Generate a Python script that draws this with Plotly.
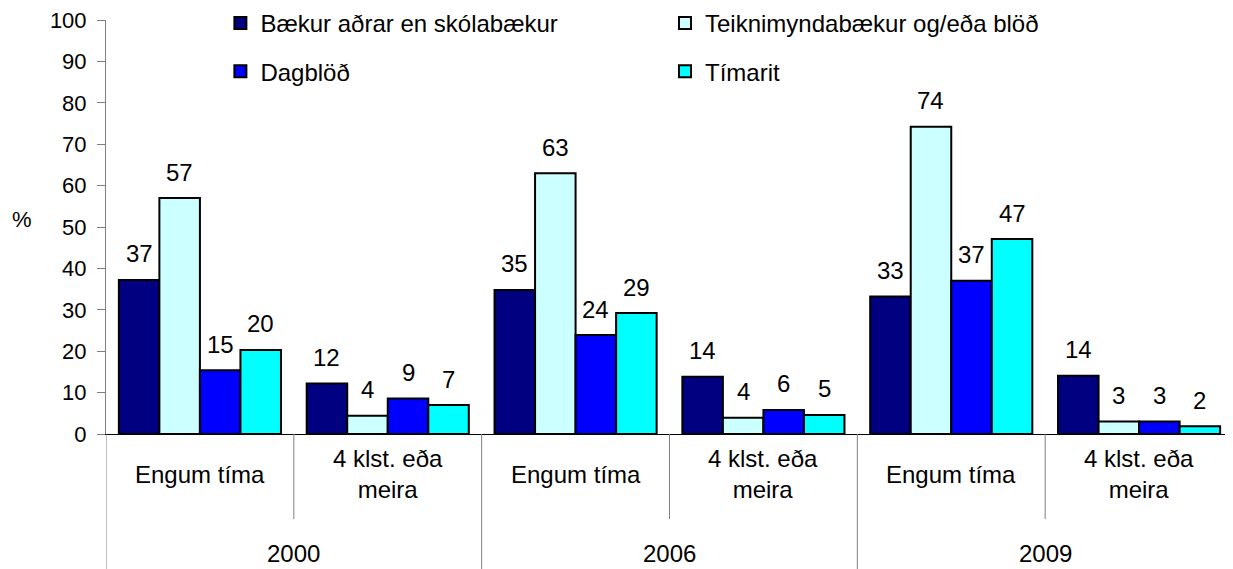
import plotly.graph_objects as go

# ---- data ----
years = ["2000", "2006", "2009"]
periods = ["Engum tíma", "4 klst. eða<br>meira"]
series_names = ["Bækur aðrar en skólabækur", "Teiknimyndabækur og/eða blöð",
                "Dagblöð", "Tímarit"]
books = [37.2, 12.2, 34.8, 13.8, 33.2, 14.1]
comics = [57.0, 4.4, 63.0, 3.9, 74.2, 3.0]
newspapers = [15.4, 8.6, 23.9, 5.8, 37.0, 3.0]
magazines = [20.3, 7.0, 29.2, 4.6, 47.1, 1.9]
y_ticks = list(range(0, 101, 10))

series_values = [books, comics, newspapers, magazines]
colors = ["#000080", "#CCFFFF", "#0000FF", "#00FFFF"]
legends = ["legend", "legend2", "legend", "legend2"]

FONT = "Liberation Sans, Arial, sans-serif"
n_cat = len(years) * len(periods)
xpos = list(range(n_cat))
bargap = 0.137
w = (1 - bargap) / len(series_values)

fig = go.Figure()
for j, (name, vals) in enumerate(zip(series_names, series_values)):
    fig.add_trace(go.Bar(
        x=xpos, y=vals, name=name,
        marker=dict(color=colors[j], line=dict(color="black", width=2)),
        legend=legends[j], legendgroup=name,
        hoverinfo="skip",
    ))

annotations = []
# data labels
for j, vals in enumerate(series_values):
    off = -(1 - bargap) / 2 + w * (j + 0.5)
    for i, v in enumerate(vals):
        annotations.append(dict(
            x=i + off, y=v, xref="x", yref="y", text=str(round(v)),
            showarrow=False, yanchor="middle", yshift=26,
            font=dict(family=FONT, size=24, color="black")))

# category labels
for yi, yr in enumerate(years):
    for pi, p in enumerate(periods):
        i = yi * len(periods) + pi
        annotations.append(dict(
            x=i, y=0, xref="x", yref="paper", text=p, showarrow=False,
            yanchor="middle", yshift=-40, align="center",
            font=dict(family=FONT, size=24, color="black")))
    annotations.append(dict(
        x=yi * len(periods) + (len(periods) - 1) / 2, y=0, xref="x", yref="paper",
        text=yr, showarrow=False, yanchor="middle", yshift=-119,
        font=dict(family=FONT, size=24, color="black")))

annotations.append(dict(
    x=0, y=0.517, xref="paper", yref="paper", text="%", showarrow=False,
    xshift=-84, xanchor="center", yanchor="middle",
    font=dict(family=FONT, size=22, color="black")))

# dividers
shapes = []
short_y = -85 / 414
long_y = -135 / 414
for k in range(n_cat - 1):
    b = k + 0.5
    outer = (k + 1) % len(periods) == 0
    shapes.append(dict(type="line", xref="x", yref="paper", x0=b, x1=b,
                       y0=0, y1=long_y if outer else short_y,
                       line=dict(color="#7f7f7f", width=1)))
shapes.append(dict(type="line", xref="x", yref="paper", x0=-0.5, x1=-0.5,
                   y0=0, y1=long_y, line=dict(color="#7f7f7f", width=1)))

# page body has an 8px default margin, so the figure is offset by 8px
fig.update_layout(
    width=1225, height=561,
    margin=dict(l=98, r=0, t=12, b=135, autoexpand=False),
    paper_bgcolor="white", plot_bgcolor="white",
    barmode="group", bargap=bargap, bargroupgap=0,
    font=dict(family=FONT, size=22, color="black"),
    showlegend=True,
    legend=dict(x=0.1015, y=1.046, xanchor="left", yanchor="top",
                orientation="v", traceorder="grouped", tracegroupgap=14,
                bgcolor="rgba(0,0,0,0)", font=dict(family=FONT, size=24, color="black"),
                itemwidth=30),
    legend2=dict(x=0.496, y=1.046, xanchor="left", yanchor="top",
                 orientation="v", traceorder="grouped", tracegroupgap=14,
                 bgcolor="rgba(0,0,0,0)", font=dict(family=FONT, size=24, color="black"),
                 itemwidth=30),
    annotations=annotations,
    shapes=shapes,
    xaxis=dict(range=[-0.5, n_cat - 0.5], showticklabels=False, ticks="",
               showgrid=False, zeroline=False, showline=True,
               linecolor="black", linewidth=1, fixedrange=True),
    yaxis=dict(range=[0, 100], tickvals=y_ticks, ticks="outside", ticklen=8,
               tickcolor="#7f7f7f", showgrid=False, zeroline=False,
               showline=True, linecolor="#7f7f7f", linewidth=1,
               tickfont=dict(family=FONT, size=22, color="black"),
               ticklabelstandoff=6, ticklabeloverflow="allow", fixedrange=True),
)

fig.write_html("out.html")
